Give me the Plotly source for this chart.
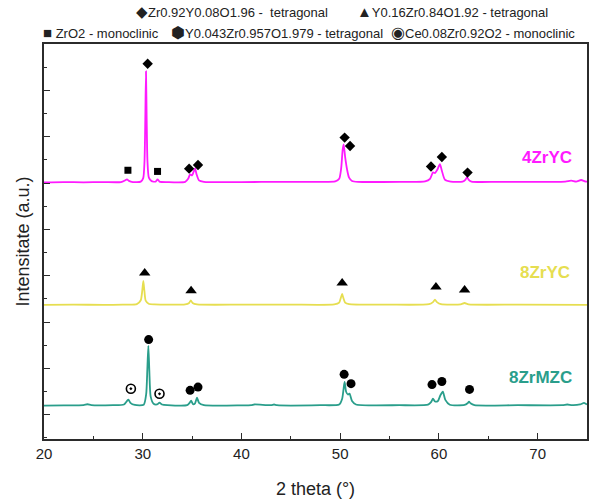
import plotly.graph_objects as go

# ---- data ----
# 4ZrYC pattern (magenta)
x_4zryc = [20.0, 22.0, 24.0, 26.0, 27.8, 28.2, 28.4, 28.6, 29.0, 29.8, 30.05, 30.18, 30.26, 30.33,
           30.40, 30.48, 30.62, 30.9, 31.3, 31.5, 31.7, 32.5, 34.3, 34.6, 34.8, 35.0, 35.15, 35.3,
           35.45, 35.7, 36.2, 40.0, 44.0, 48.0, 49.5, 49.9, 50.1, 50.25, 50.35, 50.5, 50.7, 50.9,
           51.2, 51.8, 56.0, 58.6, 59.1, 59.4, 59.6, 59.85, 60.1, 60.3, 60.6, 61.2, 62.4, 62.7,
           62.85, 63.0, 63.3, 66.0, 70.0, 72.8, 73.4, 73.9, 74.4, 74.8, 75.0]
y_4zryc = [10.03, 10.04, 10.03, 10.04, 10.04, 10.11, 10.16, 10.09, 10.04, 10.06, 10.21, 10.93, 12.73, 14.82,
           12.73, 10.93, 10.23, 10.08, 10.06, 10.16, 10.06, 10.04, 10.05, 10.18, 10.37, 10.33, 10.48, 10.63,
           10.38, 10.11, 10.05, 10.04, 10.05, 10.05, 10.07, 10.18, 10.63, 11.43, 11.67, 11.13, 10.58, 10.23,
           10.09, 10.05, 10.05, 10.07, 10.18, 10.46, 10.43, 10.58, 10.81, 10.53, 10.15, 10.06, 10.06, 10.15,
           10.25, 10.15, 10.06, 10.05, 10.05, 10.06, 10.10, 10.06, 10.13, 10.07, 10.06]

# 8ZrYC pattern (yellow)
x_8zryc = [20.0, 23.0, 26.0, 28.0, 29.4, 29.8, 29.95, 30.06, 30.17, 30.3, 30.6, 31.2, 34.3, 34.7,
           34.87, 35.05, 35.5, 40.0, 45.0, 49.4, 49.9, 50.1, 50.2, 50.32, 50.5, 50.9, 55.0, 59.0,
           59.4, 59.6, 59.8, 60.2, 62.2, 62.6, 63.0, 68.0, 75.0]
y_8zryc = [4.74, 4.75, 4.74, 4.75, 4.77, 4.94, 5.34, 5.77, 5.34, 4.92, 4.79, 4.76, 4.76, 4.82,
           4.93, 4.82, 4.76, 4.75, 4.75, 4.76, 4.84, 5.09, 5.21, 5.04, 4.84, 4.77, 4.75, 4.77,
           4.86, 4.96, 4.86, 4.77, 4.76, 4.82, 4.76, 4.75, 4.74]

# 8ZrMZC pattern (teal)
x_8zrmzc = [20.0, 22.0, 24.0, 24.4, 24.8, 27.0, 28.1, 28.4, 28.55, 28.75, 29.2, 30.1, 30.35, 30.47,
            30.57, 30.67, 30.8, 31.1, 31.45, 31.7, 31.95, 32.5, 34.5, 34.75, 34.9, 35.1, 35.3, 35.5,
            35.7, 36.2, 40.0, 41.0, 41.3, 43.0, 43.3, 43.6, 48.0, 49.9, 50.2, 50.35, 50.45, 50.6,
            50.8, 50.95, 51.2, 51.6, 56.0, 58.9, 59.2, 59.4, 59.6, 59.9, 60.15, 60.4, 60.65, 61.1,
            62.6, 62.9, 63.05, 63.2, 63.6, 68.0, 72.5, 73.0, 73.5, 74.3, 74.7, 75.0]
y_8zrmzc = [0.39, 0.40, 0.41, 0.45, 0.41, 0.41, 0.44, 0.59, 0.65, 0.51, 0.42, 0.43, 0.89, 1.99,
            2.97, 1.89, 0.79, 0.47, 0.44, 0.52, 0.44, 0.41, 0.41, 0.51, 0.61, 0.45, 0.49, 0.73,
            0.51, 0.41, 0.40, 0.41, 0.44, 0.41, 0.44, 0.41, 0.41, 0.44, 0.69, 1.14, 1.42, 0.99,
            0.87, 0.91, 0.59, 0.44, 0.41, 0.43, 0.54, 0.69, 0.57, 0.59, 0.84, 0.99, 0.64, 0.43,
            0.42, 0.49, 0.56, 0.49, 0.41, 0.41, 0.41, 0.44, 0.41, 0.44, 0.51, 0.44]

# phase markers
diamond_x = [30.5, 34.7, 35.6, 50.45, 51.0, 59.2, 60.3, 62.9]
diamond_y = [15.15, 10.62, 10.78, 11.96, 11.60, 10.71, 11.12, 10.45]
square_x = [28.5, 31.5]
square_y = [10.55, 10.50]
triangle_x = [30.2, 34.9, 50.2, 59.7, 62.6]
triangle_y = [6.12, 5.35, 5.68, 5.51, 5.38]
hex_x = [30.6, 34.8, 35.6, 50.4, 51.1, 59.3, 60.3, 63.1]
hex_y = [3.24, 1.05, 1.19, 1.74, 1.34, 1.30, 1.43, 1.09]
ring_x = [28.8, 31.7]
ring_y = [1.12, 0.90]

series_names = ["4ZrYC", "8ZrYC", "8ZrMZC"]
series_label_x = [70.9, 70.7, 70.3]
series_label_y = [11.1, 6.15, 1.6]

legend_row1_sym = ["◆", "▲"]
legend_row1_txt = ["Zr0.92Y0.08O1.96 -  tetragonal", "Y0.16Zr0.84O1.92 - tetragonal"]
legend_row2_sym = ["■", "⬢", "◉"]
legend_row2_txt = [" ZrO2 - monoclinic", "Y0.043Zr0.957O1.979 - tetragonal", "Ce0.08Zr0.92O2 - monoclinic"]

x_ticks = [20, 30, 40, 50, 60, 70]

# ---- styling ----
FONT = "Liberation Sans, Arial, sans-serif"
C_MAG = "#FF1AFF"
C_YEL = "#E6DE50"
C_TEAL = "#2A9E8B"
AXC = "#2b2b2b"

fig = go.Figure()
for xs, ys, c, n in [(x_4zryc, y_4zryc, C_MAG, series_names[0]),
                     (x_8zryc, y_8zryc, C_YEL, series_names[1]),
                     (x_8zrmzc, y_8zrmzc, C_TEAL, series_names[2])]:
    fig.add_trace(go.Scatter(x=xs, y=ys, mode="lines", name=n, showlegend=False,
                             line=dict(color=c, width=1.8, shape="spline", smoothing=0.6)))

def mk(xs, ys, sym, size, color="black", lw=0, lc="black"):
    fig.add_trace(go.Scatter(x=xs, y=ys, mode="markers", showlegend=False, hoverinfo="skip",
                             marker=dict(symbol=sym, size=size, color=color,
                                         line=dict(width=lw, color=lc))))

mk(diamond_x, diamond_y, "diamond", 8)
mk(square_x, square_y, "square", 7)
mk(triangle_x, triangle_y, "triangle-up", 10)
mk(hex_x, hex_y, "circle", 9)
mk(ring_x, ring_y, "circle-dot", 9, color="white", lw=1.6)

for name, lx, ly, c in zip(series_names, series_label_x, series_label_y, [C_MAG, C_YEL, C_TEAL]):
    fig.add_annotation(x=lx, y=ly, xref="x", yref="y", text=f"<b>{name}</b>", showarrow=False,
                       font=dict(family=FONT, size=17, color=c), xanchor="center", yanchor="middle")

def header(sym, txt, px, py, symsize):
    fig.add_annotation(x=px, y=py, xref="paper", yref="paper",
                       text=f'<span style="font-size:{symsize}px">{sym}</span>{txt}', showarrow=False,
                       xanchor="left", yanchor="middle", font=dict(family=FONT, size=13, color="#222"))

for s, t, px, ss in zip(legend_row1_sym, legend_row1_txt, [0.166, 0.573], [15, 15]):
    header(s, t, px, 1.083, ss)
for s, t, px, ss in zip(legend_row2_sym, legend_row2_txt, [-0.006, 0.230, 0.636], [15, 16, 16]):
    header(s, t, px, 1.03, ss)

fig.update_layout(
    width=597, height=504,
    margin=dict(l=44, r=8, t=44, b=64),
    paper_bgcolor="white", plot_bgcolor="white",
    font=dict(family=FONT, color="#222"),
    showlegend=False,
)
fig.update_xaxes(range=[20, 75], tickmode="array", tickvals=x_ticks, ticktext=[str(t) for t in x_ticks],
                 ticks="inside", ticklen=6, tickwidth=1.3, tickcolor=AXC,
                 minor=dict(dtick=5, tick0=20, ticks="inside", ticklen=3.5, tickwidth=1.3, tickcolor=AXC),
                 showline=True, linewidth=1.5, linecolor=AXC, mirror=True,
                 showgrid=False, zeroline=False,
                 tickfont=dict(family=FONT, size=15, color="#222"),
                 title=dict(text="2 theta (°)", font=dict(family=FONT, size=18, color="#222"), standoff=22))
fig.update_yaxes(range=[-1.05, 16.0], tick0=0, dtick=2, showticklabels=False,
                 ticks="inside", ticklen=6, tickwidth=1.3, tickcolor=AXC,
                 minor=dict(dtick=1, tick0=0, ticks="inside", ticklen=3.5, tickwidth=1.3, tickcolor=AXC),
                 showline=True, linewidth=1.5, linecolor=AXC, mirror=True,
                 showgrid=False, zeroline=False,
                 title=dict(text="Intensitate (a.u.)", font=dict(family=FONT, size=18, color="#222"), standoff=8))

fig.write_html("out.html")
